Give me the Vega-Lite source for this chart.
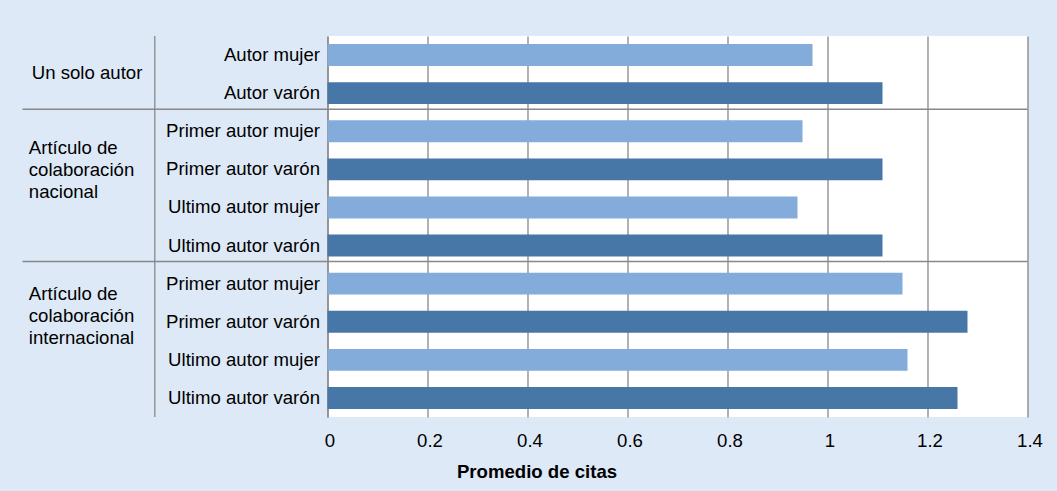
{
  "$schema": "https://vega.github.io/schema/vega-lite/v6.json",
  "width": 700,
  "height": 381,
  "autosize": "none",
  "padding": {"left": 327.5, "top": 36, "right": 29.5, "bottom": 74},
  "background": "#dde9f6",
  "config": {
    "font": "Liberation Sans",
    "view": {"fill": "white", "stroke": null}
  },
  "datasets": {
    "barras": [
      {"id": "s|Autor mujer", "sexo": "Mujer", "grupo": "Un solo autor", "citas": 0.97},
      {"id": "s|Autor varón", "sexo": "Varón", "grupo": "Un solo autor", "citas": 1.11},
      {"id": "n|Primer autor mujer", "sexo": "Mujer", "grupo": "Artículo de colaboración nacional", "citas": 0.95},
      {"id": "n|Primer autor varón", "sexo": "Varón", "grupo": "Artículo de colaboración nacional", "citas": 1.11},
      {"id": "n|Ultimo autor mujer", "sexo": "Mujer", "grupo": "Artículo de colaboración nacional", "citas": 0.94},
      {"id": "n|Ultimo autor varón", "sexo": "Varón", "grupo": "Artículo de colaboración nacional", "citas": 1.11},
      {"id": "i|Primer autor mujer", "sexo": "Mujer", "grupo": "Artículo de colaboración internacional", "citas": 1.15},
      {"id": "i|Primer autor varón", "sexo": "Varón", "grupo": "Artículo de colaboración internacional", "citas": 1.28},
      {"id": "i|Ultimo autor mujer", "sexo": "Mujer", "grupo": "Artículo de colaboración internacional", "citas": 1.16},
      {"id": "i|Ultimo autor varón", "sexo": "Varón", "grupo": "Artículo de colaboración internacional", "citas": 1.26}
    ],
    "separadores": [
      {"id": "s|Autor varón"},
      {"id": "n|Ultimo autor varón"}
    ]
  },
  "layer": [
    {
      "data": {"name": "barras"},
      "mark": {"type": "bar", "height": {"band": 0.576}},
      "encoding": {
        "y": {
          "field": "id",
          "type": "nominal",
          "title": null,
          "scale": {
            "domain": ["s|Autor mujer", "s|Autor varón", "n|Primer autor mujer", "n|Primer autor varón", "n|Ultimo autor mujer", "n|Ultimo autor varón", "i|Primer autor mujer", "i|Primer autor varón", "i|Ultimo autor mujer", "i|Ultimo autor varón"],
            "paddingInner": 0,
            "paddingOuter": 0
          },
          "axis": {
            "title": null,
            "labelExpr": "split(datum.value, '|')[1]",
            "labelFontSize": 18.6,
            "labelColor": "#000000",
            "labelPadding": 8,
            "labelLimit": 300,
            "ticks": false,
            "domain": true,
            "domainColor": "#888888",
            "domainWidth": 1.3,
            "grid": false
          }
        },
        "x": {
          "field": "citas",
          "type": "quantitative",
          "title": "Promedio de citas",
          "scale": {"domain": [0, 1.4], "nice": false, "zero": true},
          "axis": {
            "title": "Promedio de citas",
            "values": [0, 0.2, 0.4, 0.6, 0.8, 1, 1.2, 1.4],
            "format": "~g",
            "labelFontSize": 18.6,
            "labelColor": "#000000",
            "labelPadding": 14,
            "labelFlush": false,
            "labelOffset": 2,
            "ticks": false,
            "domain": false,
            "grid": true,
            "gridColor": "#888888",
            "gridWidth": 1.3,
            "titleFontSize": 18.6,
            "titleFontWeight": "bold",
            "titleColor": "#000000",
            "titlePadding": 13,
            "titleX": 209,
            "titleAlign": "center"
          }
        },
        "color": {
          "field": "sexo",
          "type": "nominal",
          "scale": {"domain": ["Mujer", "Varón"], "range": ["#84acdb", "#4677a7"]},
          "legend": null
        }
      }
    },
    {
      "data": {"name": "separadores"},
      "mark": {"type": "rule", "color": "#888888", "strokeWidth": 1.5, "yOffset": -3},
      "encoding": {
        "y": {"field": "id", "type": "nominal", "bandPosition": 1, "title": null},
        "x": {"datum": -0.61, "type": "quantitative", "title": "Promedio de citas"},
        "x2": {"datum": 1.4}
      }
    },
    {
      "data": {"values": [{"linea": "grupos"}]},
      "mark": {"type": "rule", "color": "#888888", "strokeWidth": 1.3},
      "encoding": {
        "x": {"datum": -0.3454, "type": "quantitative", "title": "Promedio de citas"}
      }
    },
    {
      "data": {"values": [{"texto": "Un solo autor"}]},
      "mark": {"type": "text", "align": "left", "baseline": "middle", "fontSize": 18.6, "color": "#000000", "dy": -1.5},
      "encoding": {
        "x": {"datum": -0.5914, "type": "quantitative", "title": "Promedio de citas"},
        "y": {"datum": "s|Autor mujer", "type": "nominal", "bandPosition": 1, "title": null},
        "text": {"field": "texto"}
      }
    },
    {
      "data": {"values": [{"texto": ["Artículo de", "colaboración", "nacional"]}]},
      "mark": {"type": "text", "align": "left", "baseline": "middle", "fontSize": 18.6, "lineHeight": 22, "color": "#000000", "dy": -21},
      "encoding": {
        "x": {"datum": -0.5974, "type": "quantitative", "title": "Promedio de citas"},
        "y": {"datum": "n|Primer autor varón", "type": "nominal", "title": null},
        "text": {"field": "texto"}
      }
    },
    {
      "data": {"values": [{"texto": ["Artículo de", "colaboración", "internacional"]}]},
      "mark": {"type": "text", "align": "left", "baseline": "middle", "fontSize": 18.6, "lineHeight": 22, "color": "#000000", "dy": -27.5},
      "encoding": {
        "x": {"datum": -0.5974, "type": "quantitative", "title": "Promedio de citas"},
        "y": {"datum": "i|Primer autor varón", "type": "nominal", "title": null},
        "text": {"field": "texto"}
      }
    }
  ]
}
